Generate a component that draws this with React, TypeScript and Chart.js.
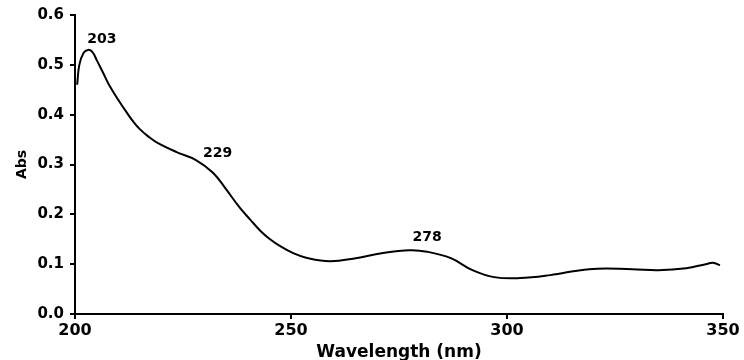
import React, { useEffect, useRef } from "react";
import { Chart, registerables } from "chart.js";

Chart.register(...registerables);

const wavelengths = [200.5, 201, 202, 203, 204, 205, 206.5, 208, 210, 212, 213.5, 215, 217, 219, 223.5, 228, 232, 235, 238, 240.5, 243, 245, 247.5, 250.5, 253.5, 259, 265, 271, 277.5, 281.5, 287, 292, 297, 303, 310, 319, 329, 335, 341.5, 346, 347.7, 349.3];
const absorbance = [0.46, 0.5, 0.524, 0.53, 0.526, 0.51, 0.484, 0.458, 0.43, 0.404, 0.386, 0.371, 0.356, 0.344, 0.325, 0.309, 0.283, 0.25, 0.215, 0.19, 0.166, 0.151, 0.136, 0.122, 0.113, 0.106, 0.112, 0.122, 0.128, 0.125, 0.112, 0.088, 0.074, 0.072, 0.078, 0.09, 0.09, 0.088, 0.092, 0.1, 0.103, 0.098];

const peakLabels = ["203", "229", "278"];
const peakLabelX = [206.2, 233, 281.5];
const peakLabelY = [0.552, 0.322, 0.153];

const xTitle = "Wavelength (nm)";
const yTitle = "Abs";

const FONT = "'DejaVu Sans', 'Liberation Sans', sans-serif";

const peakPlugin = {
  id: "peakLabels",
  afterDatasetsDraw(chart: any) {
    const { ctx, scales } = chart;
    ctx.save();
    ctx.font = `bold 14px ${FONT}`;
    ctx.fillStyle = "#000";
    ctx.textAlign = "center";
    ctx.textBaseline = "middle";
    peakLabels.forEach((t, i) => {
      ctx.fillText(t, scales.x.getPixelForValue(peakLabelX[i]), scales.y.getPixelForValue(peakLabelY[i]));
    });
    ctx.restore();
  },
};

export default function App() {
  const ref = useRef<HTMLCanvasElement>(null);
  useEffect(() => {
    if (!ref.current) return;
    const chart = new Chart(ref.current, {
      type: "line",
      data: {
        datasets: [
          {
            data: wavelengths.map((x, i) => ({ x, y: absorbance[i] })),
            borderColor: "#000",
            borderWidth: 2,
            pointRadius: 0,
            tension: 0.4,
            fill: false,
          },
        ],
      },
      options: {
        animation: false,
        responsive: false,
        devicePixelRatio: 1,
        layout: { padding: { top: 15, right: 21, left: 0, bottom: 0 } },
        plugins: { legend: { display: false }, tooltip: { enabled: false } },
        scales: {
          x: {
            type: "linear",
            min: 200,
            max: 350,
            afterFit: (s: any) => { s.height = 46; },
            border: { display: true, color: "#000", width: 2 },
            grid: { display: true, drawOnChartArea: false, drawTicks: true, tickLength: 5, color: "#000", lineWidth: 2 },
            ticks: {
              stepSize: 50,
              color: "#000",
              padding: 2,
              maxRotation: 0,
              font: { family: FONT, weight: "bold", size: 16 },
            },
            title: {
              display: true,
              text: xTitle,
              color: "#000",
              padding: 0,
              font: { family: FONT, weight: "bold", size: 17, lineHeight: 0.9 },
            },
          },
          y: {
            min: 0,
            max: 0.6,
            afterFit: (s: any) => { s.width = 75; },
            border: { display: true, color: "#000", width: 2 },
            grid: { display: true, drawOnChartArea: false, drawTicks: true, tickLength: 5, color: "#000", lineWidth: 2 },
            ticks: {
              stepSize: 0.1,
              color: "#000",
              padding: 6,
              callback: (v: any) => Number(v).toFixed(1),
              font: { family: FONT, weight: "bold", size: 15 },
            },
            title: {
              display: true,
              text: yTitle,
              color: "#000",
              padding: { top: 14, bottom: 0 },
              font: { family: FONT, weight: "bold", size: 14 },
            },
          },
        },
      },
      plugins: [peakPlugin],
    } as any);
    return () => chart.destroy();
  }, []);
  return (
    <div style={{ position: "absolute", left: 0, top: 0, width: 744, height: 360, background: "#fff" }}>
      <canvas ref={ref} width={744} height={360} />
    </div>
  );
}
